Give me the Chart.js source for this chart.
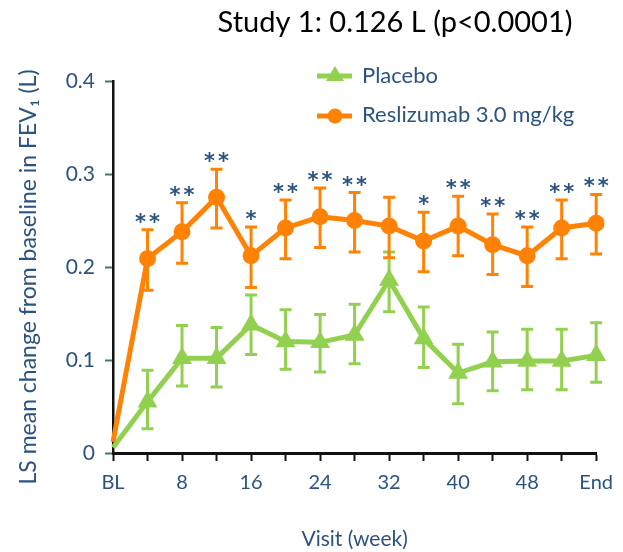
<!DOCTYPE html>
<html>
<head>
<meta charset="utf-8">
<script src="https://cdn.jsdelivr.net/npm/chart.js@4.4.1/dist/chart.umd.min.js"></script>
<style>
html, body { margin:0; padding:0; background:#fff; }
#wrap { width:623px; height:552px; }
</style>
</head>
<body>
<div id="wrap"><canvas id="chart" width="623" height="552"></canvas></div>
<script>
// visits (weeks) on the x axis
var visits = ['BL','4','8','12','16','20','24','28','32','36','40','44','48','52','End'];

// LS mean change from baseline in FEV1 (L) + error bars
var placebo        = [0.006, 0.055, 0.102, 0.102, 0.138, 0.120, 0.119, 0.127, 0.186, 0.123, 0.086, 0.098, 0.099, 0.099, 0.105];
var placeboHigh    = [null,  0.089, 0.137, 0.135, 0.170, 0.154, 0.149, 0.160, 0.216, 0.157, 0.117, 0.130, 0.133, 0.133, 0.140];
var placeboLow     = [null,  0.026, 0.072, 0.071, 0.106, 0.090, 0.087, 0.096, 0.152, 0.092, 0.053, 0.067, 0.068, 0.068, 0.076];
var reslizumab     = [0.012, 0.209, 0.238, 0.275, 0.212, 0.242, 0.254, 0.250, 0.244, 0.228, 0.244, 0.224, 0.212, 0.242, 0.247];
var reslizumabHigh = [null,  0.240, 0.269, 0.305, 0.243, 0.272, 0.285, 0.280, 0.275, 0.259, 0.276, 0.257, 0.243, 0.272, 0.278];
var reslizumabLow  = [null,  0.175, 0.204, 0.242, 0.178, 0.209, 0.221, 0.216, 0.210, 0.195, 0.212, 0.192, 0.179, 0.209, 0.214];

// significance marks above the reslizumab error bars
var stars = ['', '**', '**', '**', '*', '**', '**', '**', '', '*', '**', '**', '**', '**', '**'];

var yMin = 0, yMax = 0.4, yStep = 0.1;

var titleText = 'Study 1: 0.126 L (p<0.0001)';
var yTitle = 'LS mean change from baseline in FEV\u2081 (L)';
var font = "Lato, 'Open Sans', sans-serif";
var textBlue = '#2b5380';
var orange = '#ff8205';
var green = '#92d050';

var errorBars = {
    id: 'errorBars',
    beforeDatasetsDraw: function(chart) {
        var ctx = chart.ctx;
        var x = chart.scales.x, y = chart.scales.y;
        var sets = [
            { hi: placeboHigh, lo: placeboLow, color: green },
            { hi: reslizumabHigh, lo: reslizumabLow, color: orange }
        ];
        ctx.save();
        ctx.lineWidth = 3;
        sets.forEach(function(s) {
            ctx.strokeStyle = s.color;
            for (var i = 0; i < visits.length; i++) {
                if (s.hi[i] == null) continue;
                var px = x.getPixelForValue(i);
                var top = y.getPixelForValue(s.hi[i]);
                var bot = y.getPixelForValue(s.lo[i]);
                ctx.beginPath();
                ctx.moveTo(px, top); ctx.lineTo(px, bot);
                ctx.moveTo(px - 6, top); ctx.lineTo(px + 6, top);
                ctx.moveTo(px - 6, bot); ctx.lineTo(px + 6, bot);
                ctx.stroke();
            }
        });
        ctx.restore();
    },
    afterDraw: function(chart) {
        var ctx = chart.ctx;
        var x = chart.scales.x, y = chart.scales.y;
        ctx.save();
        // stars
        ctx.fillStyle = textBlue;
        ctx.font = "bold 21px 'DejaVu Sans'";
        ctx.textAlign = 'center';
        ctx.textBaseline = 'alphabetic';
        for (var i = 0; i < stars.length; i++) {
            if (!stars[i]) continue;
            var px = x.getPixelForValue(i);
            var base = y.getPixelForValue(reslizumabHigh[i]) - 1;
            var n = stars[i].length;
            for (var k = 0; k < n; k++) {
                ctx.fillText(stars[i][k], px + (k - (n - 1) / 2) * 14, base);
            }
        }
        // title
        ctx.fillStyle = '#000';
        ctx.font = "29px " + font;
        ctx.fillText(titleText, 395, 32);
        // y axis title
        ctx.fillStyle = textBlue;
        ctx.font = "23px " + font;
        ctx.save();
        ctx.translate(36, 277);
        ctx.rotate(-Math.PI / 2);
        ctx.fillText(yTitle, 0, 0);
        ctx.restore();
        // legend
        ctx.lineWidth = 5;
        ctx.strokeStyle = green;
        ctx.beginPath(); ctx.moveTo(317, 76); ctx.lineTo(352, 76); ctx.stroke();
        ctx.fillStyle = green;
        ctx.beginPath(); ctx.moveTo(335, 66); ctx.lineTo(344, 81); ctx.lineTo(326, 81); ctx.closePath(); ctx.fill();
        ctx.strokeStyle = orange;
        ctx.beginPath(); ctx.moveTo(317, 116); ctx.lineTo(352, 116); ctx.stroke();
        ctx.fillStyle = orange;
        ctx.beginPath(); ctx.arc(335, 116, 7.5, 0, Math.PI * 2); ctx.fill();
        ctx.fillStyle = textBlue;
        ctx.font = "22px " + font;
        ctx.textAlign = 'left';
        ctx.fillText('Placebo', 362, 83);
        ctx.fillText('Reslizumab 3.0 mg/kg', 362, 122);
        ctx.restore();
    }
};

var ctx = document.getElementById('chart').getContext('2d');
var chart = new Chart(ctx, {
    type: 'line',
    data: {
        labels: visits,
        datasets: [
            {
                label: 'Reslizumab 3.0 mg/kg',
                data: reslizumab,
                borderColor: orange,
                backgroundColor: orange,
                borderWidth: 5,
                pointStyle: 'circle',
                pointRadius: visits.map(function(v, i) { return i == 0 ? 0 : 8.5; }),
                pointBorderWidth: 0,
                tension: 0
            },
            {
                label: 'Placebo',
                data: placebo,
                borderColor: green,
                backgroundColor: green,
                borderWidth: 5,
                pointStyle: 'triangle',
                pointRadius: visits.map(function(v, i) { return i == 0 ? 0 : 11.5; }),
                pointBorderWidth: 0,
                tension: 0
            }
        ]
    },
    options: {
        responsive: false,
        animation: false,
        layout: { padding: { left: 0, right: 20, top: 81, bottom: 0 } },
        plugins: {
            legend: { display: false },
            title: { display: false },
            tooltip: { enabled: false }
        },
        scales: {
            x: {
                offset: false,
                afterFit: function(scale) { scale.height = 99; },
                grid: { drawOnChartArea: false, tickLength: 8, tickWidth: 2, tickColor: '#111' },
                border: { color: '#111', width: 3 },
                ticks: {
                    autoSkip: false,
                    maxRotation: 0,
                    padding: 10,
                    color: textBlue,
                    font: { family: font, size: 20 },
                    callback: function(v, i) { return i % 2 == 0 ? visits[i] : ''; }
                },
                title: {
                    display: true,
                    text: 'Visit (week)',
                    color: textBlue,
                    font: { family: font, size: 21 },
                    padding: { top: 0, bottom: 0 }
                }
            },
            y: {
                min: yMin,
                max: yMax,
                afterFit: function(scale) { scale.width = 113; },
                grid: { drawOnChartArea: false, tickLength: 8, tickWidth: 2, tickColor: '#3d7a6c' },
                border: { color: '#111', width: 2.5 },
                ticks: {
                    stepSize: yStep,
                    padding: 10,
                    color: textBlue,
                    font: { family: font, size: 21 }
                }
            }
        }
    },
    plugins: [errorBars]
});
</script>
</body>
</html>
